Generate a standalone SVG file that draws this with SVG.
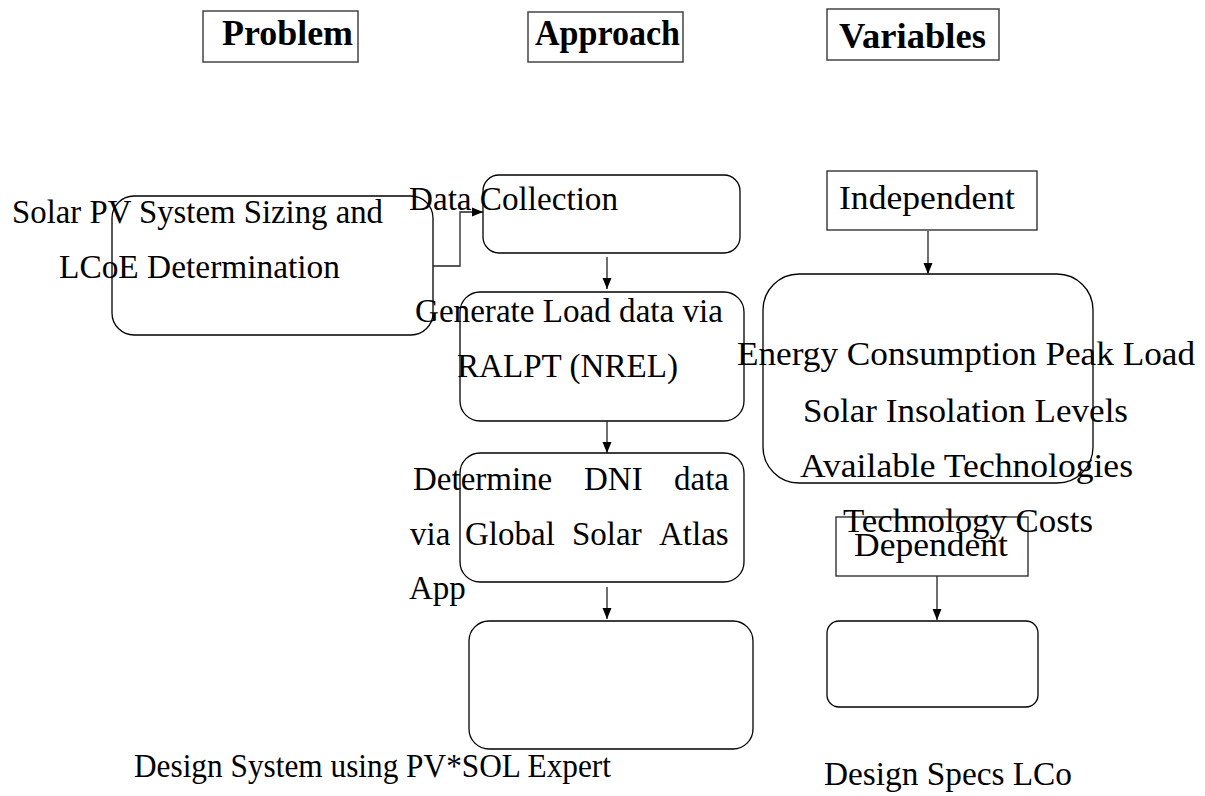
<svg xmlns="http://www.w3.org/2000/svg" width="1205" height="796" viewBox="0 0 1205 796">
<defs>
<marker id="arr" markerUnits="userSpaceOnUse" markerWidth="12" markerHeight="12" viewBox="0 0 12 12" refX="11" refY="6" orient="auto">
<path d="M0,1.5 L11,6 L0,10.5 Z" fill="#000"/>
</marker>
<style>
.hdr{fill:#fff;stroke:#444;stroke-width:1.5}
.ht{font-family:"Liberation Serif","Times New Roman",serif;font-weight:bold;font-size:35px;fill:#000}
.box{fill:none;stroke:#000;stroke-width:1.3}
.sq{fill:#fff;stroke:#222;stroke-width:1.3}
.t{font-family:"Liberation Serif","Times New Roman",serif;font-size:33px;fill:#000}
.c{fill:none;stroke:#222;stroke-width:1.3}
</style>
</defs>
<rect width="1205" height="796" fill="#fff"/>

<g id="hdr-problem">
<rect class="hdr" x="203" y="11" width="155" height="51"/>
<text class="ht" x="222" y="45" textLength="131" lengthAdjust="spacingAndGlyphs">Problem</text>
</g>
<g id="hdr-approach">
<rect class="hdr" x="528" y="12" width="155" height="50"/>
<text class="ht" x="535" y="45" textLength="145" lengthAdjust="spacingAndGlyphs">Approach</text>
</g>
<g id="hdr-variables">
<rect class="hdr" x="827" y="9" width="172" height="51"/>
<text class="ht" x="839" y="48" textLength="147" lengthAdjust="spacingAndGlyphs">Variables</text>
</g>

<g id="problem">
<rect class="box" x="112" y="196" width="321" height="139" rx="22" ry="22"/>
<text class="t" x="12" y="223" textLength="371" lengthAdjust="spacingAndGlyphs">Solar PV System Sizing and</text>
<text class="t" x="59" y="278" textLength="281" lengthAdjust="spacingAndGlyphs">LCoE Determination</text>
</g>

<g id="data-collection">
<rect class="box" x="483" y="175" width="257" height="78" rx="16" ry="16"/>
<text class="t" x="409" y="210" textLength="209" lengthAdjust="spacingAndGlyphs">Data Collection</text>
</g>

<g id="generate-load">
<rect class="box" x="460" y="292" width="284" height="129" rx="20" ry="20"/>
<text class="t" x="415" y="322" textLength="308" lengthAdjust="spacingAndGlyphs">Generate Load data via</text>
<text class="t" x="457" y="377" textLength="221" lengthAdjust="spacingAndGlyphs">RALPT (NREL)</text>
</g>

<g id="determine-dni">
<rect class="box" x="460" y="453" width="284" height="129" rx="20" ry="20"/>
<text class="t" x="413" y="490">Determine</text>
<text class="t" x="584" y="490">DNI</text>
<text class="t" x="674" y="490">data</text>
<text class="t" x="410" y="545">via</text>
<text class="t" x="465" y="545">Global</text>
<text class="t" x="572" y="545">Solar</text>
<text class="t" x="659" y="545">Atlas</text>
<text class="t" x="409" y="599">App</text>
</g>

<g id="design-system">
<rect class="box" x="469" y="621" width="284" height="128" rx="20" ry="20"/>
<text class="t" x="134" y="777" textLength="477" lengthAdjust="spacingAndGlyphs">Design System using PV*SOL Expert</text>
</g>

<g id="independent">
<rect class="sq" x="827" y="171" width="210" height="59"/>
<text class="t" x="839" y="209" textLength="176" lengthAdjust="spacingAndGlyphs">Independent</text>
</g>

<g id="independent-vars">
<rect class="box" x="763" y="274" width="330" height="209" rx="36" ry="36"/>
<text class="t" x="737" y="365" textLength="458" lengthAdjust="spacingAndGlyphs">Energy Consumption Peak Load</text>
<text class="t" x="803" y="422" textLength="325" lengthAdjust="spacingAndGlyphs">Solar Insolation Levels</text>
<text class="t" x="800" y="477" textLength="333" lengthAdjust="spacingAndGlyphs">Available Technologies</text>
</g>

<g id="dependent">
<rect class="sq" x="836" y="517" width="192" height="59" fill="none"/>
<text class="t" x="854" y="556" textLength="154" lengthAdjust="spacingAndGlyphs">Dependent</text>
<text class="t" x="843" y="532" textLength="250" lengthAdjust="spacingAndGlyphs">Technology Costs</text>
</g>

<g id="dependent-vars">
<rect class="box" x="827" y="621" width="211" height="86" rx="12" ry="12"/>
<text class="t" x="824" y="785" textLength="248" lengthAdjust="spacingAndGlyphs">Design Specs LCo</text>
</g>

<g id="connectors">
<polyline class="c" points="433,266 460,266 460,212 483,212" marker-end="url(#arr)"/>
<line class="c" x1="607" y1="257" x2="607" y2="289" marker-end="url(#arr)"/>
<line class="c" x1="607" y1="421" x2="607" y2="453" marker-end="url(#arr)"/>
<line class="c" x1="607" y1="587" x2="607" y2="619" marker-end="url(#arr)"/>
<line class="c" x1="928" y1="231" x2="928" y2="274" marker-end="url(#arr)"/>
<line class="c" x1="937" y1="576" x2="937" y2="620" marker-end="url(#arr)"/>
</g>
</svg>
